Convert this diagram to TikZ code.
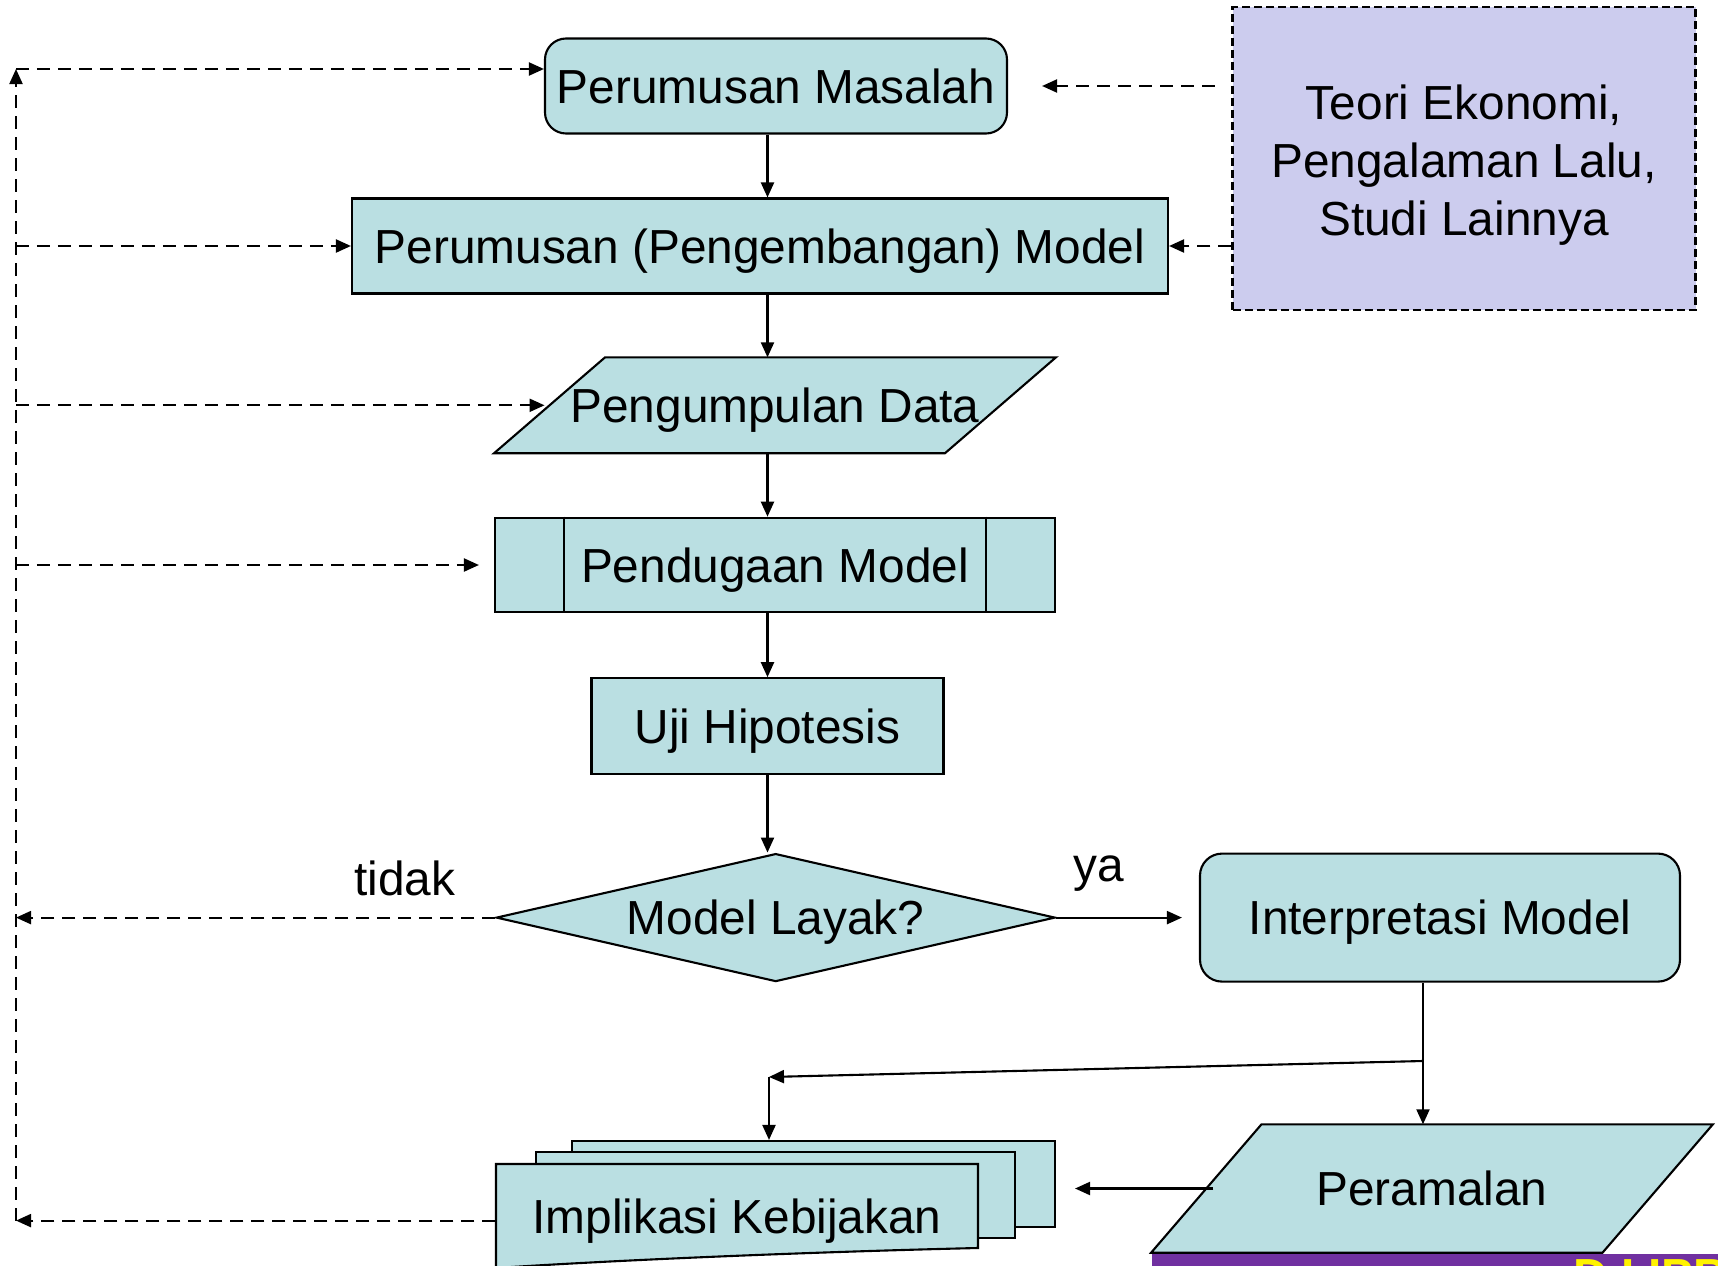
\documentclass[tikz,border=0pt]{standalone}
\usepackage{fontspec}
\setmainfont{Liberation Sans}
\usepackage{xcolor}
\usetikzlibrary{shapes.geometric,arrows.meta,backgrounds}
\definecolor{boxfill}{HTML}{BADFE2}
\definecolor{teorifill}{HTML}{CCCCEE}
\definecolor{barpurple}{HTML}{7030A0}

\begin{document}
\begin{tikzpicture}[x=0.1mm, y=-0.1mm,
    every node/.style={font=\fontsize{13.6pt}{16.5pt}\selectfont, text depth=0pt},
    box/.style={draw, fill=boxfill, line width=0.6pt, inner sep=0pt},
    arr/.style={line width=0.6pt, -{Triangle[length=1.5mm,width=1.3mm]}},
    dasharr/.style={arr, dash pattern=on 1.3mm off 0.8mm}]
    \useasboundingbox (0,0) rectangle (1718,1266);

    \node[box, rounded corners=2.1mm, minimum width=46.2mm, minimum height=9.5mm] (masalah) at (776,86) {Perumusan Masalah};
    \node[box, minimum width=81.6mm, minimum height=9.5mm] (model) at (760,246) {Perumusan (Pengembangan) Model};
    \node[inner sep=0pt, minimum width=44.95mm, minimum height=9.45mm] (data) at (775,405.3) {Pengumpulan Data};
    \node[box, minimum width=56mm, minimum height=9.45mm] (pendugaan) at (775,565) {Pendugaan Model};
    \draw[line width=0.6pt] ([xshift=7mm]pendugaan.north west) -- ([xshift=7mm]pendugaan.south west);
    \draw[line width=0.6pt] ([xshift=-7mm]pendugaan.north east) -- ([xshift=-7mm]pendugaan.south east);
    \node[box, minimum width=35.2mm, minimum height=9.55mm] (uji) at (767.5,726) {Uji Hipotesis};
    \node[box, diamond, aspect=4.4, minimum width=55.9mm, minimum height=12.8mm] (layak) at (775.7,917.6) {Model Layak?};
    \node[box, rounded corners=2.2mm, minimum width=48mm, minimum height=12.8mm] (interp) at (1440,917.6) {Interpretasi Model};
    \node[inner sep=0pt, minimum width=45mm, minimum height=12.7mm] (peramalan) at (1432,1188.5) {Peramalan};
    \node[box, fill=teorifill, dash pattern=on 0.8mm off 0.4mm, minimum width=46.3mm, minimum height=30.3mm,
        label={[align=center, yshift=-0.15mm]center:Teori Ekonomi,\\Pengalaman Lalu,\\Studi Lainnya}] (teori) at (1464,158.4) {};

    \begin{pgfonlayer}{background}
        \draw[box] ([xshift=5.55mm]data.north west) -- ([xshift=5.55mm]data.north east)
            -- ([xshift=-5.55mm]data.south east) -- ([xshift=-5.55mm]data.south west) -- cycle;
        \draw[box] ([xshift=5.52mm]peramalan.north west) -- ([xshift=5.52mm]peramalan.north east)
            -- ([xshift=-5.52mm]peramalan.south east) -- ([xshift=-5.52mm]peramalan.south west) -- cycle;
    \end{pgfonlayer}

    \node[box, minimum width=48.3mm, minimum height=8.6mm] (docback) at (813.5,1184) {};
    \node[box, minimum width=47.9mm, minimum height=8.6mm] (docmid) at (775.3,1195) {};
    \draw[box] (496,1164) -- (978,1164) -- (978,1248) .. controls (850,1251) and (650,1258) .. (496,1268) -- cycle;
    \node[minimum width=48.2mm, inner sep=0pt] (impl) at (737,1216.3) {Implikasi Kebijakan};

    \fill[barpurple] (1151.6,1254) rectangle (1730,1280);
    \node[anchor=base west, text=yellow, inner sep=0pt, font=\fontsize{13.6pt}{16.5pt}\selectfont\bfseries] (footer) at (1573,1292) {D I IPB};

    \coordinate (bustop) at (16,69);
    \coordinate (busbot) at (16,1220.6);
    \coordinate (split) at (1423,1061);
    \coordinate (bend) at (769,1077);

    \draw[arr] (masalah.south -| uji) -- (model.north -| uji);
    \draw[arr] (model.south -| uji) -- (data.north -| uji);
    \draw[arr] (data.south -| uji) -- (pendugaan.north -| uji);
    \draw[arr] (pendugaan.south -| uji) -- (uji.north);
    \draw[arr] (uji.south) -- (layak.north -| uji);
    \draw[arr] (layak.east) -- ([xshift=-1.7mm]interp.west);
    \draw[arr] (interp.south -| split) -- (peramalan.north -| split);
    \draw[arr] (split) -- (bend);
    \draw[arr] (bend) -- (bend |- docback.north);
    \draw[arr] ([xshift=0.7mm]peramalan.west) -- ([xshift=1.9mm]docback.east |- peramalan.west);

    \draw[dasharr] ([xshift=-1.66mm]teori.west |- masalah) -- ([xshift=3.4mm]masalah.east);
    \draw[dasharr] (teori.west |- model.east) -- (model.east);

    \draw[dasharr] (busbot) -- (bustop);
    \draw[dasharr] (bustop) -- (bustop -| masalah.west);
    \draw[dasharr] (bustop |- model.west) -- (model.west);
    \draw[dasharr] (bustop |- data.west) -- ([xshift=-0.5mm]data.west);
    \draw[dasharr] (bustop |- pendugaan.west) -- ([xshift=-1.5mm]pendugaan.west);
    \draw[dasharr] (layak.west) -- (bustop |- layak.west);
    \draw[dasharr] (impl.west |- busbot) -- (busbot);

    \node (tidak) at (405,878) {tidak};
    \node (ya) at (1099,868.2) {ya};
\end{tikzpicture}
\end{document}
